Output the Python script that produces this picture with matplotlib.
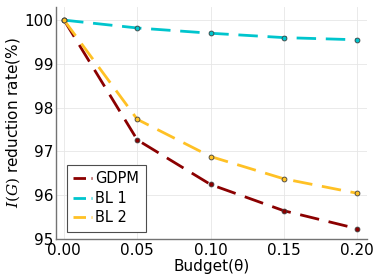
import matplotlib
matplotlib.use("Agg")
import matplotlib.pyplot as plt
from matplotlib.lines import Line2D

budget = [0.00, 0.05, 0.10, 0.15, 0.20]
gdpm = [100.0, 97.26, 96.24, 95.64, 95.23]
bl1 = [100.0, 99.82, 99.70, 99.60, 99.55]
bl2 = [100.0, 97.73, 96.88, 96.37, 96.04]

series = [("GDPM", gdpm, "#8b0000"),
          ("BL 1", bl1, "#00c5cd"),
          ("BL 2", bl2, "#ffc125")]

plt.rcParams.update({
    "font.family": "DejaVu Sans",
    "font.size": 11,
    "mathtext.fontset": "dejavuserif",
})

DASH = (0, (7, 3.5))

fig = plt.figure(figsize=(3.74, 2.8), dpi=100)
ax = fig.add_axes([56 / 374, 1 - 238.7 / 280, (367 - 56) / 374, (238.7 - 7) / 280])

handles = []
for label, vals, color in series:
    ax.plot(budget, vals, ls=DASH, lw=2.0, color=color,
            marker="o", ms=3.5, mfc=color, mec="0.25", mew=0.6)
    handles.append(Line2D([], [], ls=(0, (4.5, 2)), lw=2.0, color=color, label=label))

ax.set_xlim(-0.0055, 0.2068)
ax.set_ylim(95.0, 100.3)
ax.set_xticks(budget)
ax.set_xticklabels([f"{b:.2f}" for b in budget])
ax.set_yticks([95, 96, 97, 98, 99, 100])
ax.grid(True, color="0.9", lw=0.6)
ax.set_axisbelow(True)
for s in ("top", "right"):
    ax.spines[s].set_visible(False)
for s in ("left", "bottom"):
    ax.spines[s].set_color("0.45")
    ax.spines[s].set_linewidth(1.0)
ax.tick_params(length=0, labelsize=11)
ax.tick_params(axis="x", pad=3)
ax.tick_params(axis="y", pad=2)
ax.set_xlabel("Budget(θ)", fontsize=11, labelpad=1)
ax.set_ylabel("$I(G)$ reduction rate(%)", fontsize=11, labelpad=2)

leg = ax.legend(handles=handles, loc="lower left", fancybox=False, framealpha=1,
                edgecolor="0.3", fontsize=10.5, handlelength=1.3,
                handletextpad=0.2, borderpad=0.45, labelspacing=0.3,
                borderaxespad=0, bbox_to_anchor=(0.035, 0.03))
leg.get_frame().set_linewidth(0.8)

fig.savefig("out.png", dpi=100)
